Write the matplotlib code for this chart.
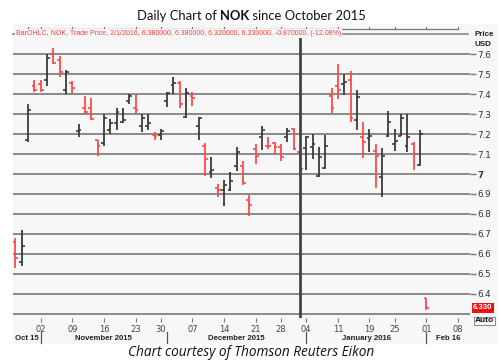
import numpy as np
import pandas as pd
import matplotlib
matplotlib.use("Agg")
import matplotlib.pyplot as plt
import matplotlib.transforms as mtransforms
from matplotlib.patches import Rectangle

# trading days shown on the axis (US market holidays removed)
holidays = ["2015-11-26", "2015-12-25", "2016-01-01", "2016-01-18"]
calendar = [d for d in pd.bdate_range("2015-10-27", "2016-02-08")
            if d.strftime("%Y-%m-%d") not in holidays]
calendar = [d.strftime("%Y-%m-%d") for d in calendar]

dates = ["2015-10-27", "2015-10-28", "2015-10-29", "2015-10-30",
         "2015-11-02", "2015-11-03", "2015-11-04", "2015-11-05", "2015-11-06",
         "2015-11-09", "2015-11-10", "2015-11-11", "2015-11-12", "2015-11-13",
         "2015-11-16", "2015-11-17", "2015-11-18", "2015-11-19", "2015-11-20",
         "2015-11-23", "2015-11-24", "2015-11-25", "2015-11-27",
         "2015-11-30", "2015-12-01", "2015-12-02", "2015-12-03", "2015-12-04",
         "2015-12-07", "2015-12-08", "2015-12-09", "2015-12-10", "2015-12-11",
         "2015-12-14", "2015-12-15", "2015-12-16", "2015-12-17", "2015-12-18",
         "2015-12-21", "2015-12-22", "2015-12-23", "2015-12-24",
         "2015-12-28", "2015-12-29", "2015-12-30", "2015-12-31",
         "2016-01-04", "2016-01-05", "2016-01-06", "2016-01-07", "2016-01-08",
         "2016-01-11", "2016-01-12", "2016-01-13", "2016-01-14", "2016-01-15",
         "2016-01-19", "2016-01-20", "2016-01-21", "2016-01-22",
         "2016-01-25", "2016-01-26", "2016-01-27", "2016-01-28", "2016-01-29",
         "2016-02-01"]

opens = [6.66, 6.56, 7.17, 7.44,
         7.45, 7.47, 7.60, 7.57, 7.42,
         7.455, 7.213, 7.33, 7.33, 7.168,
         7.155, 7.222, 7.255, 7.26, 7.367,
         7.33, 7.242, 7.242, 7.197,
         7.197, 7.365, 7.447, 7.455, 7.288,
         7.39, 7.242, 7.142, 7.008, 6.93,
         6.918, 6.918, 7.038, 7.042, 6.868,
         7.127, 7.183, 7.142, 7.155,
         7.135, 7.183, 7.227, 7.108,
         7.13, 7.135, 6.988, 7.03, 7.39,
         7.44, 7.452, 7.472, 7.272, 7.183,
         7.18, 7.113, 6.983, 7.19,
         7.152, 7.192, 7.142, 7.15, 7.047,
         6.38]
highs = [6.68, 6.72, 7.35, 7.47,
         7.47, 7.60, 7.63, 7.59, 7.52,
         7.467, 7.252, 7.39, 7.383, 7.172,
         7.30, 7.277, 7.33, 7.33, 7.40,
         7.40, 7.30, 7.30, 7.208,
         7.225, 7.413, 7.485, 7.468, 7.433,
         7.413, 7.288, 7.155, 7.083, 6.952,
         6.968, 7.008, 7.135, 7.063, 6.897,
         7.15, 7.242, 7.185, 7.158,
         7.152, 7.23, 7.23, 7.113,
         7.188, 7.20, 7.133, 7.193, 7.43,
         7.552, 7.502, 7.518, 7.422, 7.263,
         7.227, 7.152, 7.13, 7.317,
         7.225, 7.302, 7.302, 7.158, 7.222,
         6.38]
lows = [6.53, 6.54, 7.16, 7.41,
        7.41, 7.44, 7.55, 7.485, 7.40,
        7.40, 7.183, 7.30, 7.272, 7.092,
        7.142, 7.202, 7.222, 7.255, 7.352,
        7.305, 7.208, 7.218, 7.168,
        7.168, 7.338, 7.402, 7.33, 7.283,
        7.342, 7.172, 6.988, 6.98, 6.885,
        6.842, 6.913, 7.013, 6.943, 6.792,
        7.052, 7.122, 7.125, 7.10,
        7.063, 7.158, 7.122, 6.992,
        7.022, 7.075, 6.983, 7.025, 7.305,
        7.375, 7.397, 7.263, 7.222, 7.08,
        7.108, 6.93, 6.885, 7.185,
        7.117, 7.188, 7.108, 7.022, 7.042,
        6.32]
closes = [6.58, 6.64, 7.32, 7.42,
          7.42, 7.58, 7.555, 7.51, 7.51,
          7.43, 7.222, 7.313, 7.277, 7.142,
          7.283, 7.255, 7.313, 7.272, 7.393,
          7.32, 7.28, 7.255, 7.192,
          7.213, 7.408, 7.458, 7.352, 7.408,
          7.38, 7.283, 7.075, 7.022, 6.92,
          6.947, 6.963, 7.11, 6.955, 6.843,
          7.092, 7.222, 7.138, 7.135,
          7.085, 7.217, 7.125, 7.025,
          7.183, 7.15, 7.085, 7.142, 7.333,
          7.42, 7.463, 7.283, 7.385, 7.16,
          7.188, 7.092, 7.092, 7.263,
          7.163, 7.283, 7.183, 7.10, 7.20,
          6.33]

price_ticks = [7.6, 7.5, 7.4, 7.3, 7.2, 7.1, 7.0, 6.9, 6.8, 6.7, 6.6, 6.5, 6.4]
price_labels = ["7.6", "7.5", "7.4", "7.3", "7.2", "7.1", "7", "6.9", "6.8",
                "6.7", "6.6", "6.5", "6.4"]
grid_levels = [7.6, 7.5, 7.4, 7.3, 7.2, 7.1, 7.0, 6.9, 6.8, 6.7, 6.6, 6.5, 6.4, 6.3]
week_ticks = ["2015-11-02", "2015-11-09", "2015-11-16", "2015-11-23", "2015-11-30",
              "2015-12-07", "2015-12-14", "2015-12-21", "2015-12-28", "2016-01-04",
              "2016-01-11", "2016-01-19", "2016-01-25", "2016-02-01", "2016-02-08"]
months = ["Oct 15", "November 2015", "December 2015", "January 2016", "Feb 16"]
month_starts = ["2015-11-02", "2015-12-01", "2016-01-04", "2016-02-01"]
cursor_date = "2015-12-31"
legend_text = ("BarOHLC, NOK, Trade Price, 2/1/2016, 6.380000, 6.380000, "
               "6.320000, 6.330000, -0.870000, (-12.08%)")

W, H = 502, 361
fig = plt.figure(figsize=(W / 100, H / 100), dpi=100)
bg = "#f7f7f7"
fig.patches.append(Rectangle((13 / W, 1 - 343 / H), 484 / W, 319 / H,
                             transform=fig.transFigure, color=bg, zorder=-5))

ax = fig.add_axes([13 / W, 1 - 318 / H, 457 / W, 282 / H])
ax.set_facecolor(bg)
for s in ax.spines.values():
    s.set_visible(False)

xpos = np.array([calendar.index(d) for d in dates])
o = np.array(opens); h = np.array(highs); l = np.array(lows); c = np.array(closes)
red = "#ff4a4a"
dark = "#3a3a3a"
cols = np.where(c < o, red, dark)

for lv in grid_levels:
    ax.axhline(lv, color="#8a8a8a", lw=1.4, zorder=1)

tw = 0.45
ax.vlines(xpos, l, h, colors=cols, lw=1.3, zorder=3)
ax.hlines(o, xpos - tw, xpos, colors=cols, lw=1.2, zorder=3)
ax.hlines(c, xpos, xpos + tw, colors=cols, lw=1.2, zorder=3)

ax.axvline(calendar.index(cursor_date), ymax=0.992, color="#444444", lw=2, zorder=4)

ax.set_xlim(-0.38, 71.9)
ax.set_ylim(6.2785, 7.6915)

ax.yaxis.tick_right()
ax.set_yticks(price_ticks)
ax.set_yticklabels(price_labels)
ax.tick_params(axis="y", length=4, width=1, color="#777777", pad=1,
               labelsize=6.3, labelcolor="#333333")
for t in ax.get_yticklabels():
    t.set_family("DejaVu Sans")
    if t.get_text() == "7":
        t.set_fontweight("bold")

wk = [calendar.index(d) for d in week_ticks]
ax.set_xticks(wk)
ax.set_xticklabels([d[-2:] for d in week_ticks])
ax.tick_params(axis="x", length=3, width=0.8, color="#777777", pad=2,
               labelsize=6, labelcolor="#444444")

# month row under the day labels
btr = mtransforms.blended_transform_factory(ax.transData, fig.transFigure)
ymon = 1 - 338 / H
edges = [-0.3] + [calendar.index(d) for d in month_starts] + [len(calendar) + 0.5]
for i, name in enumerate(months):
    if i == 0:
        fig.text(15 / W, ymon, name, fontsize=5.6, fontweight="bold",
                 family="Liberation Sans", va="center", ha="left", color="#222222")
    elif i == len(months) - 1:
        ax.text(calendar.index("2016-02-08") - 1.5, ymon, name, transform=btr,
                fontsize=5.6, fontweight="bold", family="Liberation Sans",
                va="center", ha="center", color="#222222")
    else:
        ax.text((edges[i] + edges[i + 1]) / 2, ymon, name, transform=btr,
                fontsize=5.6, fontweight="bold", family="Liberation Sans",
                va="center", ha="center", color="#222222")
for d in month_starts:
    xi = calendar.index(d)
    ax.plot([xi, xi], [1 - 332 / H, 1 - 343 / H], transform=btr, color="#555555",
            lw=0.9, clip_on=False)

# top axis strip
topy = 1 - 28.5 / H
ax.plot([1.7, calendar.index("2016-02-08")], [topy, topy], transform=btr,
        color="#777777", lw=0.9, clip_on=False)
for xi in [2] + wk:
    ax.plot([xi, xi], [topy, topy + 2 / H], transform=btr, color="#777777",
            lw=0.8, clip_on=False)

# legend line
ly = 1 - 33.5 / H
fig.add_artist(plt.Line2D([13 / W, 468 / W], [ly, ly], color="#8a8a8a", lw=1.2))
fig.text(16 / W, ly, legend_text, fontsize=5.05, family="Liberation Sans",
         color="#ff3b3b", va="center", ha="left",
         bbox=dict(facecolor=bg, edgecolor="none", pad=0.6))

fig.text(475 / W, 1 - 34 / H, "Price", fontsize=5.8, fontweight="bold",
         family="Liberation Sans", va="center", ha="left", color="#222222")
fig.text(475 / W, 1 - 44 / H, "USD", fontsize=5.8, fontweight="bold",
         family="Liberation Sans", va="center", ha="left", color="#222222")

# last price box and Auto
lp = ax.transData.transform((0, closes[-1]))[1] / (H)
fig.text(473 / W, lp, "6.330", fontsize=5.6, fontweight="bold",
         family="Liberation Sans", color="white", va="center", ha="left",
         bbox=dict(facecolor="#ee1111", edgecolor="none", pad=1.0))
fig.text(475 / W, 1 - 321 / H, "Auto", fontsize=6, fontweight="bold",
         family="Liberation Sans", color="#111111", va="center", ha="left",
         bbox=dict(facecolor=bg, edgecolor="#777777", lw=0.6, pad=0.5))

# title with bold ticker
ty = 1 - 16 / H
t1 = fig.text(137 / W, ty, "Daily Chart of ", fontsize=9.4, family="Lato",
              va="center", ha="left", color="#111111")
t2 = fig.add_artist(matplotlib.text.Annotation(
    "NOK", xy=(1, 0), xycoords=t1, va="bottom", ha="left", fontsize=9.4,
    family="Lato", fontweight="bold", color="#111111"))
fig.add_artist(matplotlib.text.Annotation(
    " since October 2015", xy=(1, 0), xycoords=t2, va="bottom", ha="left",
    fontsize=9.4, family="Lato", color="#111111"))

fig.text(0.5, 1 - 352 / H, "Chart courtesy of Thomson Reuters Eikon", fontsize=9.8,
         family="Open Sans", style="italic", va="center", ha="center", color="#111111")

fig.savefig("out.png", dpi=100, facecolor="white")
